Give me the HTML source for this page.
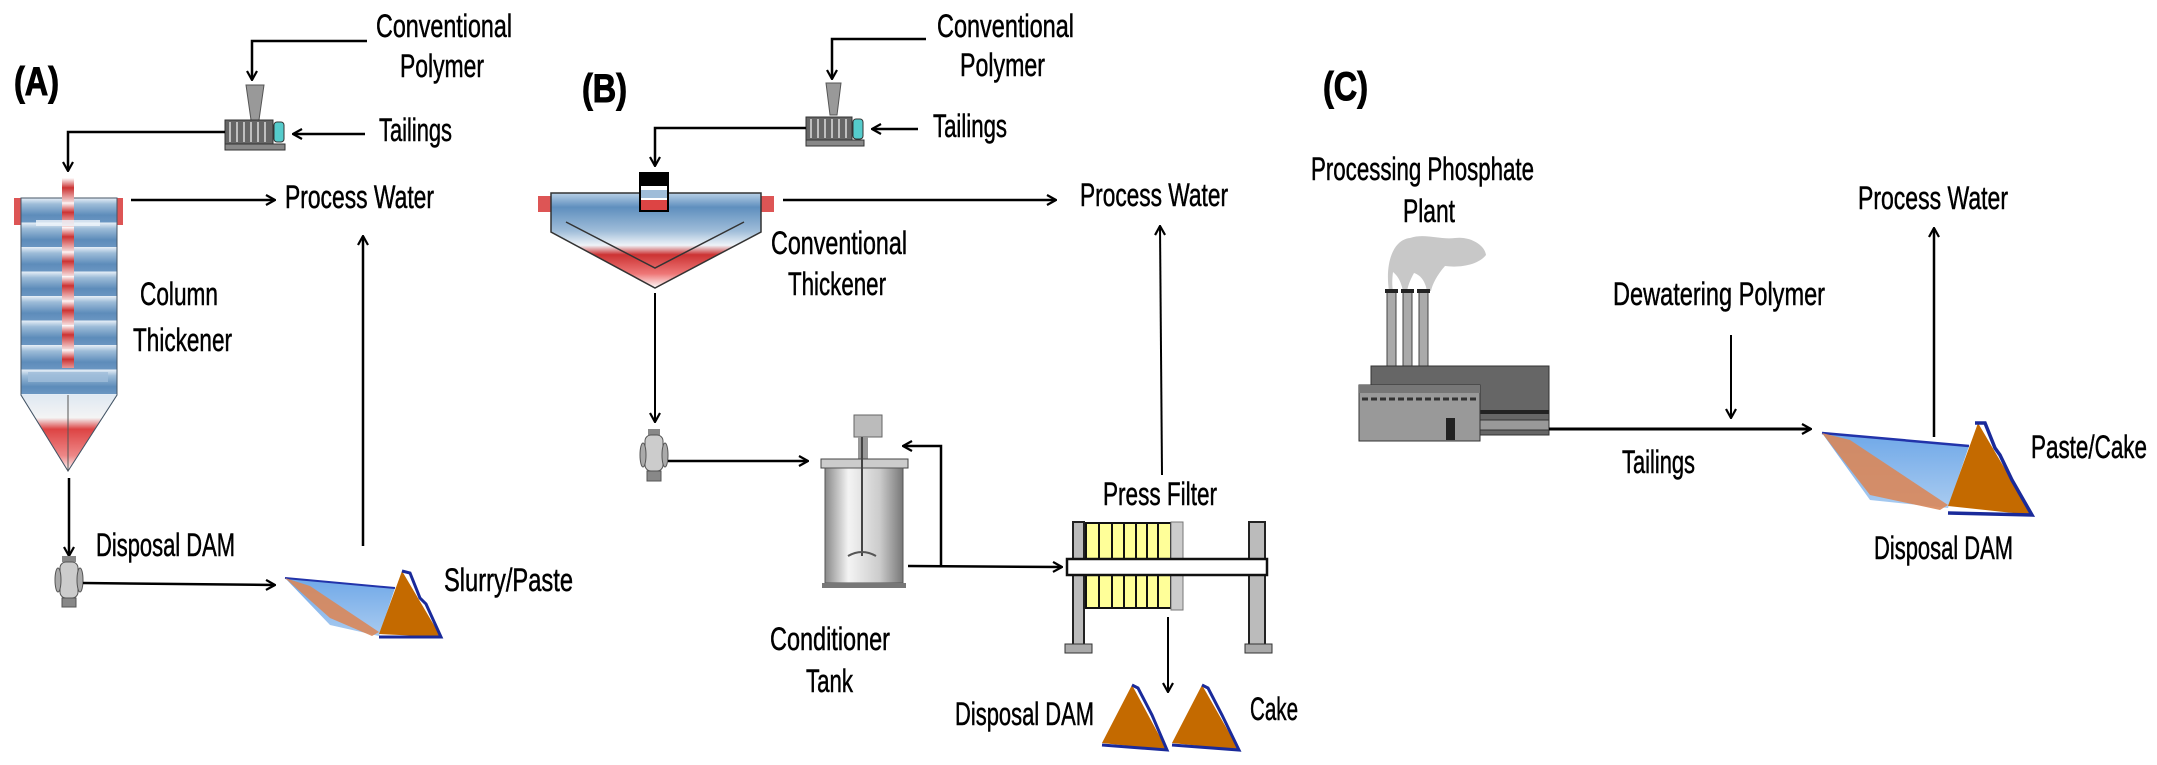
<!DOCTYPE html>
<html><head><meta charset="utf-8"><style>
html,body{margin:0;padding:0;background:#fff}
svg{display:block}
text{font-family:"Liberation Sans",sans-serif;fill:#000;stroke:#000;stroke-width:0.5}
</style></head><body>
<svg width="2157" height="765" viewBox="0 0 2157 765" xmlns="http://www.w3.org/2000/svg">
<defs>
<marker id="ar" viewBox="0 0 12 12" refX="11" refY="6" markerWidth="12" markerHeight="12" markerUnits="userSpaceOnUse" orient="auto">
<polyline points="2,1 11,6 2,11" fill="none" stroke="#000" stroke-width="2.2"/>
</marker>
<linearGradient id="band" x1="0" y1="0" x2="0" y2="1">
<stop offset="0" stop-color="#e8f0f8"/><stop offset="0.25" stop-color="#9dbcd8"/><stop offset="0.7" stop-color="#5d8cba"/><stop offset="1" stop-color="#6b96c2"/>
</linearGradient>
<pattern id="bands" x="0" y="198" width="10" height="24.5" patternUnits="userSpaceOnUse">
<rect width="10" height="24.5" fill="url(#band)"/>
</pattern>
<linearGradient id="redcone" x1="0" y1="0" x2="0" y2="1">
<stop offset="0" stop-color="#dfe8f2"/><stop offset="0.3" stop-color="#f4f4f4"/><stop offset="0.45" stop-color="#d44"/><stop offset="0.8" stop-color="#e88"/><stop offset="1" stop-color="#fff"/>
</linearGradient>
<linearGradient id="redbar" x1="0" y1="0" x2="0" y2="1">
<stop offset="0" stop-color="#fff"/><stop offset="0.4" stop-color="#c33"/><stop offset="1" stop-color="#f6dcdc"/>
</linearGradient>
<pattern id="rbars" x="0" y="178" width="10" height="24.5" patternUnits="userSpaceOnUse">
<rect width="10" height="24.5" fill="url(#redbar)"/>
</pattern>
<linearGradient id="conv" x1="0" y1="0" x2="0" y2="1">
<stop offset="0" stop-color="#b8d0e6"/><stop offset="0.15" stop-color="#5f8fbe"/><stop offset="0.4" stop-color="#9fbdd9"/><stop offset="0.55" stop-color="#eef3f8"/><stop offset="0.65" stop-color="#cc3333"/><stop offset="0.85" stop-color="#e77"/><stop offset="1" stop-color="#fff"/>
</linearGradient>
<linearGradient id="tank" x1="0" y1="0" x2="1" y2="0">
<stop offset="0" stop-color="#888"/><stop offset="0.3" stop-color="#f4f4f4"/><stop offset="0.7" stop-color="#ccc"/><stop offset="1" stop-color="#777"/>
</linearGradient>
<linearGradient id="water" x1="0" y1="0" x2="0" y2="1">
<stop offset="0" stop-color="#6fa8e8"/><stop offset="1" stop-color="#a9cbf0"/>
</linearGradient>
</defs>

<!-- ============ PANEL A ============ -->
<text x="14" y="95" font-size="40" font-weight="bold" textLength="45" lengthAdjust="spacingAndGlyphs" style="stroke-width:1">(A)</text>
<text x="376" y="37" font-size="32" textLength="136" lengthAdjust="spacingAndGlyphs">Conventional</text>
<text x="400" y="77" font-size="32" textLength="84" lengthAdjust="spacingAndGlyphs">Polymer</text>
<text x="379" y="141" font-size="32" textLength="73" lengthAdjust="spacingAndGlyphs">Tailings</text>
<polyline points="367,41 252,41 252,80" fill="none" stroke="#000" stroke-width="2.5" marker-end="url(#ar)"/>
<line x1="365" y1="134" x2="293" y2="134" stroke="#000" stroke-width="2.5" marker-end="url(#ar)"/>
<polygon points="246,85 264,85 259,120 251,120" fill="#999" stroke="#555" stroke-width="1"/>
<rect x="225" y="120" width="48" height="24" fill="#666" stroke="#333"/>
<g stroke="#ddd" stroke-width="1.5"><line x1="230" y1="122" x2="230" y2="142"/><line x1="237" y1="122" x2="237" y2="142"/><line x1="244" y1="122" x2="244" y2="142"/><line x1="251" y1="122" x2="251" y2="142"/><line x1="258" y1="122" x2="258" y2="142"/><line x1="265" y1="122" x2="265" y2="142"/></g>
<rect x="274" y="122" width="10" height="20" rx="3" fill="#5cc" stroke="#333"/>
<rect x="225" y="144" width="60" height="6" fill="#888" stroke="#333"/>
<polyline points="225,132 68,132 68,171" fill="none" stroke="#000" stroke-width="2.5" marker-end="url(#ar)"/>
<rect x="14" y="198" width="7" height="27" fill="#d55"/>
<rect x="117" y="198" width="6" height="27" fill="#d55"/>
<polygon points="21,198 117,198 117,395 68,471 21,395" fill="url(#bands)" stroke="#456" stroke-width="1"/>
<polygon points="21,395 117,395 68,471" fill="url(#redcone)"/>
<polyline points="21,395 68,471 117,395" fill="none" stroke="#456" stroke-width="1"/>
<line x1="68" y1="395" x2="68" y2="471" stroke="#555" stroke-width="1"/>
<rect x="62" y="178" width="12" height="190" fill="url(#rbars)"/>
<rect x="36" y="220" width="64" height="6" fill="#eef4fa" opacity="0.8"/>
<rect x="28" y="372" width="80" height="10" fill="#9fbdd9" opacity="0.8"/>
<text x="140" y="305" font-size="32" textLength="78" lengthAdjust="spacingAndGlyphs">Column</text>
<text x="133" y="351" font-size="32" textLength="99" lengthAdjust="spacingAndGlyphs">Thickener</text>
<line x1="131" y1="200" x2="275" y2="200" stroke="#000" stroke-width="2.5" marker-end="url(#ar)"/>
<text x="285" y="208" font-size="32" textLength="149" lengthAdjust="spacingAndGlyphs">Process Water</text>
<line x1="363" y1="546" x2="363" y2="236" stroke="#000" stroke-width="2.5" marker-end="url(#ar)"/>
<line x1="69" y1="478" x2="69" y2="556" stroke="#000" stroke-width="2.5" marker-end="url(#ar)"/>
<g>
<rect x="62" y="556" width="14" height="6" fill="#888"/>
<rect x="60" y="562" width="18" height="36" rx="6" fill="#ccc" stroke="#555"/>
<ellipse cx="58" cy="580" rx="3" ry="12" fill="#aaa" stroke="#555"/>
<ellipse cx="80" cy="580" rx="3" ry="12" fill="#aaa" stroke="#555"/>
<rect x="62" y="598" width="14" height="9" fill="#888" stroke="#555"/>
</g>
<text x="96" y="556" font-size="32" textLength="139" lengthAdjust="spacingAndGlyphs">Disposal DAM</text>
<line x1="83" y1="583" x2="275" y2="585" stroke="#000" stroke-width="2.5" marker-end="url(#ar)"/>
<polygon points="285,578 395,588 379,636 330,625" fill="url(#water)"/>
<line x1="285" y1="578" x2="395" y2="588" stroke="#2233aa" stroke-width="2"/>
<polygon points="285,578 310,586 379,632 372,636 330,618" fill="#d9875a" opacity="0.9"/>
<polygon points="402,571 379,634 441,637" fill="#c46a00"/>
<polyline points="402,571 410,573 420,598 426,604 441,637 379,637" fill="none" stroke="#1a2a9a" stroke-width="3"/>
<text x="444" y="591" font-size="32" textLength="129" lengthAdjust="spacingAndGlyphs">Slurry/Paste</text>

<!-- ============ PANEL B ============ -->
<text x="582" y="102" font-size="40" font-weight="bold" textLength="45" lengthAdjust="spacingAndGlyphs" style="stroke-width:1">(B)</text>
<text x="937" y="37" font-size="32" textLength="137" lengthAdjust="spacingAndGlyphs">Conventional</text>
<text x="960" y="76" font-size="32" textLength="85" lengthAdjust="spacingAndGlyphs">Polymer</text>
<text x="933" y="137" font-size="32" textLength="74" lengthAdjust="spacingAndGlyphs">Tailings</text>
<polyline points="926,39 832,39 832,79" fill="none" stroke="#000" stroke-width="2.5" marker-end="url(#ar)"/>
<line x1="918" y1="129" x2="872" y2="129" stroke="#000" stroke-width="2.5" marker-end="url(#ar)"/>
<polygon points="826,83 841,83 837,115 830,115" fill="#999" stroke="#555"/>
<rect x="806" y="117" width="46" height="23" fill="#666" stroke="#333"/>
<g stroke="#ddd" stroke-width="1.5"><line x1="811" y1="119" x2="811" y2="138"/><line x1="818" y1="119" x2="818" y2="138"/><line x1="825" y1="119" x2="825" y2="138"/><line x1="832" y1="119" x2="832" y2="138"/><line x1="839" y1="119" x2="839" y2="138"/><line x1="846" y1="119" x2="846" y2="138"/></g>
<rect x="853" y="119" width="10" height="20" rx="3" fill="#5cc" stroke="#333"/>
<rect x="806" y="140" width="58" height="6" fill="#888" stroke="#333"/>
<polyline points="806,128 655,128 655,166" fill="none" stroke="#000" stroke-width="2.5" marker-end="url(#ar)"/>
<rect x="538" y="196" width="13" height="16" fill="#d55"/>
<rect x="761" y="196" width="13" height="16" fill="#d55"/>
<polygon points="551,193 761,193 761,232 655,288 551,232" fill="url(#conv)" stroke="#333" stroke-width="1.5"/>
<polyline points="566,222 655,268 744,222" fill="none" stroke="#333" stroke-width="1.5"/>
<rect x="640" y="173" width="28" height="38" fill="#fff" stroke="#000" stroke-width="2"/>
<rect x="641" y="174" width="26" height="12" fill="#000"/>
<rect x="641" y="190" width="26" height="8" fill="#9fbdd9"/>
<rect x="641" y="200" width="26" height="10" fill="#d44"/>
<text x="771" y="254" font-size="32" textLength="136" lengthAdjust="spacingAndGlyphs">Conventional</text>
<text x="788" y="295" font-size="32" textLength="98" lengthAdjust="spacingAndGlyphs">Thickener</text>
<line x1="783" y1="200" x2="1056" y2="200" stroke="#000" stroke-width="2.5" marker-end="url(#ar)"/>
<text x="1080" y="206" font-size="32" textLength="148" lengthAdjust="spacingAndGlyphs">Process Water</text>
<line x1="655" y1="293" x2="655" y2="422" stroke="#000" stroke-width="2" marker-end="url(#ar)"/>
<rect x="648" y="429" width="12" height="6" fill="#888"/>
<rect x="645" y="435" width="18" height="36" rx="6" fill="#ccc" stroke="#555"/>
<ellipse cx="643" cy="455" rx="3" ry="12" fill="#aaa" stroke="#555"/>
<ellipse cx="665" cy="455" rx="3" ry="12" fill="#aaa" stroke="#555"/>
<rect x="647" y="471" width="14" height="10" fill="#888" stroke="#555"/>
<line x1="668" y1="461" x2="808" y2="461" stroke="#000" stroke-width="2.5" marker-end="url(#ar)"/>
<rect x="854" y="415" width="28" height="22" fill="#bbb" stroke="#666"/>
<rect x="858" y="437" width="10" height="22" fill="#999"/>
<rect x="821" y="459" width="87" height="9" fill="#ccc" stroke="#444"/>
<rect x="825" y="468" width="78" height="115" fill="url(#tank)" stroke="#555"/>
<rect x="822" y="583" width="84" height="5" fill="#777"/>
<line x1="862" y1="437" x2="862" y2="556" stroke="#444" stroke-width="2"/>
<path d="M848,556 Q862,548 876,556" fill="none" stroke="#555" stroke-width="2"/>
<text x="770" y="650" font-size="32" textLength="120" lengthAdjust="spacingAndGlyphs">Conditioner</text>
<text x="806" y="692" font-size="32" textLength="47" lengthAdjust="spacingAndGlyphs">Tank</text>
<line x1="908" y1="566" x2="1062" y2="567" stroke="#000" stroke-width="2.5" marker-end="url(#ar)"/>
<polyline points="941,566 941,446 903,446" fill="none" stroke="#000" stroke-width="2.5" marker-end="url(#ar)"/>
<rect x="1073" y="522" width="11" height="123" fill="#bbb" stroke="#222" stroke-width="2"/>
<rect x="1249" y="522" width="16" height="123" fill="#bbb" stroke="#222" stroke-width="2"/>
<rect x="1086" y="523" width="85" height="85" fill="#ffff99" stroke="#111" stroke-width="2"/>
<g stroke="#111" stroke-width="2"><line x1="1099" y1="523" x2="1099" y2="608"/><line x1="1112" y1="523" x2="1112" y2="608"/><line x1="1124" y1="523" x2="1124" y2="608"/><line x1="1136" y1="523" x2="1136" y2="608"/><line x1="1147" y1="523" x2="1147" y2="608"/><line x1="1158" y1="523" x2="1158" y2="608"/></g>
<rect x="1171" y="522" width="12" height="88" fill="#ccc" stroke="#777"/>
<rect x="1067" y="559" width="200" height="16" fill="#fff" stroke="#111" stroke-width="2.5"/>
<rect x="1065" y="644" width="27" height="9" fill="#aaa" stroke="#333"/>
<rect x="1245" y="644" width="27" height="9" fill="#aaa" stroke="#333"/>
<text x="1103" y="505" font-size="32" textLength="114" lengthAdjust="spacingAndGlyphs">Press Filter</text>
<line x1="1162" y1="475" x2="1160" y2="226" stroke="#000" stroke-width="2" marker-end="url(#ar)"/>
<line x1="1168" y1="617" x2="1168" y2="692" stroke="#000" stroke-width="2" marker-end="url(#ar)"/>
<polygon points="1132,685 1102,743 1167,750" fill="#c46a00"/>
<polyline points="1132,685 1138,688 1152,715 1167,750 1102,745" fill="none" stroke="#1a2a9a" stroke-width="3"/>
<polygon points="1202,685 1172,743 1239,750" fill="#c46a00"/>
<polyline points="1202,685 1208,688 1222,715 1239,750 1172,745" fill="none" stroke="#1a2a9a" stroke-width="3"/>
<text x="955" y="725" font-size="32" textLength="139" lengthAdjust="spacingAndGlyphs">Disposal DAM</text>
<text x="1250" y="720" font-size="32" textLength="48" lengthAdjust="spacingAndGlyphs">Cake</text>

<!-- ============ PANEL C ============ -->
<text x="1323" y="100" font-size="40" font-weight="bold" textLength="45" lengthAdjust="spacingAndGlyphs" style="stroke-width:1">(C)</text>
<text x="1311" y="180" font-size="32" textLength="223" lengthAdjust="spacingAndGlyphs">Processing Phosphate</text>
<text x="1403" y="222" font-size="32" textLength="52" lengthAdjust="spacingAndGlyphs">Plant</text>
<path d="M1389,291 C1385,265 1392,240 1410,238 C1425,233 1440,240 1455,238 C1470,236 1485,245 1486,255 C1478,265 1460,268 1445,266 C1437,275 1432,285 1431,291 L1427,291 C1425,280 1420,275 1414,273 C1410,280 1408,286 1407,291 L1403,291 C1401,282 1398,276 1393,272 C1392,280 1392,286 1393,291 Z" fill="#c8c8c8"/>
<rect x="1387" y="291" width="9" height="75" fill="#aaa" stroke="#444"/>
<rect x="1403" y="291" width="9" height="75" fill="#aaa" stroke="#444"/>
<rect x="1419" y="291" width="9" height="75" fill="#aaa" stroke="#444"/>
<rect x="1385" y="289" width="13" height="4" fill="#222"/>
<rect x="1401" y="289" width="13" height="4" fill="#222"/>
<rect x="1417" y="289" width="13" height="4" fill="#222"/>
<rect x="1371" y="366" width="178" height="69" fill="#666" stroke="#333"/>
<rect x="1480" y="410" width="69" height="4" fill="#222"/>
<rect x="1480" y="420" width="69" height="10" fill="#999" stroke="#333"/>
<rect x="1359" y="385" width="121" height="56" fill="#999" stroke="#333"/>
<rect x="1359" y="385" width="121" height="8" fill="#777"/>
<line x1="1362" y1="399" x2="1478" y2="399" stroke="#333" stroke-width="3" stroke-dasharray="6,3"/>
<rect x="1446" y="418" width="9" height="22" fill="#222"/>
<line x1="1549" y1="429" x2="1811" y2="429" stroke="#000" stroke-width="3" marker-end="url(#ar)"/>
<text x="1622" y="473" font-size="32" textLength="73" lengthAdjust="spacingAndGlyphs">Tailings</text>
<text x="1613" y="305" font-size="32" textLength="212" lengthAdjust="spacingAndGlyphs">Dewatering Polymer</text>
<line x1="1731" y1="335" x2="1731" y2="418" stroke="#000" stroke-width="2" marker-end="url(#ar)"/>
<polygon points="1822,433 1969,446 1948,508 1870,500" fill="url(#water)"/>
<line x1="1822" y1="433" x2="1969" y2="446" stroke="#2233aa" stroke-width="2.5"/>
<polygon points="1822,433 1850,440 1948,505 1940,510 1870,495" fill="#d9875a" opacity="0.9"/>
<polygon points="1978,423 1948,506 2032,515" fill="#c46a00"/>
<polyline points="1975,423 1985,423 1995,448 2000,455 2012,480 2032,515 1948,513" fill="none" stroke="#1a2a9a" stroke-width="3.5"/>
<line x1="1934" y1="437" x2="1934" y2="228" stroke="#000" stroke-width="2.5" marker-end="url(#ar)"/>
<text x="1858" y="209" font-size="32" textLength="150" lengthAdjust="spacingAndGlyphs">Process Water</text>
<text x="2031" y="458" font-size="32" textLength="116" lengthAdjust="spacingAndGlyphs">Paste/Cake</text>
<text x="1874" y="559" font-size="32" textLength="139" lengthAdjust="spacingAndGlyphs">Disposal DAM</text>
</svg>
</body></html>
